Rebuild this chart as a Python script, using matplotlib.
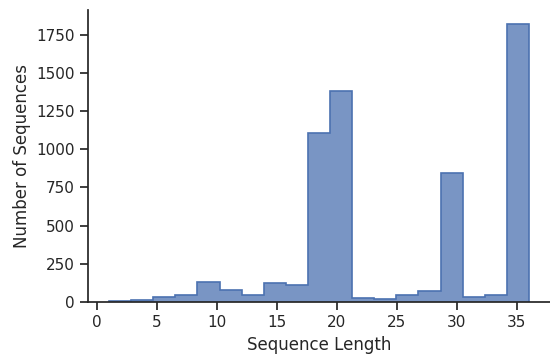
import matplotlib
matplotlib.use("Agg")
import matplotlib.pyplot as plt
import numpy as np
import seaborn as sns

# bin edges: 19 equal bins between 1 and 36
bin_lo = 1
bin_hi = 36
n_bins = 19
counts = [8, 15, 30, 44, 127, 80, 46, 124, 113, 1108, 1385,
          26, 18, 46, 68, 843, 33, 44, 1822]

sns.set_theme(style="ticks", context="notebook")
plt.rcParams['font.family'] = ['DejaVu Sans']

edges = np.linspace(bin_lo, bin_hi, n_bins + 1)

fig = plt.figure(figsize=(5.5, 3.58), dpi=100)
ax = fig.add_axes([0.16, 0.157, 0.84, 0.815])

color = "#4c72b0"
ax.stairs(counts, edges, fill=True, color=color, alpha=0.75, linewidth=0)
ax.stairs(counts, edges, fill=False, color=color, linewidth=1.2, baseline=0)

span = bin_hi - bin_lo
ax.set_xlim(bin_lo - 0.05 * span, bin_hi + 0.05 * span)
ax.set_ylim(0, max(counts) * 1.05)
ax.set_xticks([0, 5, 10, 15, 20, 25, 30, 35])
ax.set_yticks([0, 250, 500, 750, 1000, 1250, 1500, 1750])
ax.set_xlabel("Sequence Length")
ax.set_ylabel("Number of Sequences")
sns.despine(ax=ax)

fig.savefig("out.png", dpi=100)
